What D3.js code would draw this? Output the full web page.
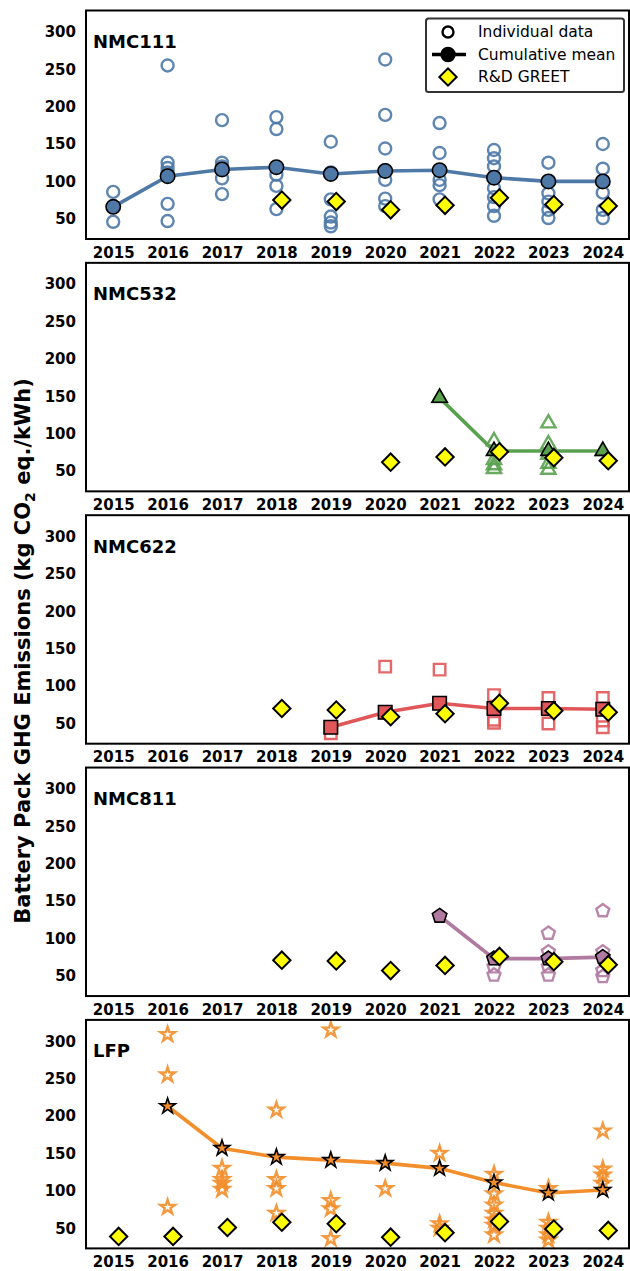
<!DOCTYPE html>
<html>
<head>
<meta charset="utf-8">
<script src="https://cdn.jsdelivr.net/npm/d3@7"></script>
<style>
  html, body { margin: 0; padding: 0; background: #fff; }
  svg { display: block; font-family: 'DejaVu Sans', sans-serif; }
  .tick text { font-family: 'DejaVu Sans', sans-serif; font-size: 15px; font-weight: bold; fill: #000; }
</style>
</head>
<body>
<svg id="chart" width="630" height="1271"></svg>
<script>
const years = [2015, 2016, 2017, 2018, 2019, 2020, 2021, 2022, 2023, 2024];
const yTicks = [50, 100, 150, 200, 250, 300];
const chemistries = ['NMC111', 'NMC532', 'NMC622', 'NMC811', 'LFP'];
const colors = ['#4e79a7', '#59a14f', '#e15759', '#b07aa1', '#f28e2b'];

// individual data, one list per year (2015..2024)
const nmc111Points = [
  [86, 46], [255, 125, 118, 112, 70, 47], [182, 125, 120, 104, 83], [186, 170, 109, 94, 63],
  [153, 112, 76, 53, 45, 40], [263, 189, 144, 115, 102, 77, 67], [178, 138, 115, 102, 95, 76],
  [142, 131, 120, 91, 79, 67, 54], [125, 84, 73, 62, 51], [150, 117, 100, 85, 62, 51]
];
const nmc532Points = [[], [], [], [], [], [], [148], [90, 65, 58, 53], [114, 86, 72, 60, 52], [77]];
const nmc622Points = [[], [], [], [], [45, 37], [126, 65], [122, 77], [88, 70, 55, 51], [84, 70, 50], [84, 70, 54, 45]];
const nmc811Points = [[], [], [], [], [], [], [130], [73, 62, 51], [107, 82, 73, 62, 51], [137, 82, 57, 49]];
const lfpPoints = [
  [], [309, 255, 78], [130, 115, 110, 102], [208, 115, 103, 70], [315, 87, 76, 36], [103],
  [150, 56, 50], [122, 96, 81, 70, 61, 54, 41], [103, 58, 50, 41, 34], [180, 129, 121, 110]
];

// cumulative mean
const nmc111Mean = [66, 107, 116, 119, 110, 114, 115, 105, 100, 100];
const nmc532Mean = [null, null, null, null, null, null, 148, 77, 77, 77];
const nmc622Mean = [null, null, null, null, 45, 65, 77, 70, 70, 69];
const nmc811Mean = [null, null, null, null, null, null, 130, 73, 73, 75];
const lfpMean = [null, 213, 157, 145, 141, 137, 130, 111, 97, 101];

// R&D GREET
const nmc111Greet = [null, null, null, 75, 73, 62, 68, 78, 69, 67];
const nmc532Greet = [null, null, null, null, null, 62, 69, 76, 68, 64];
const nmc622Greet = [null, null, null, 70, 68, 59, 63, 77, 67, 65];
const nmc811Greet = [null, null, null, 71, 70, 57, 64, 76, 69, 65];
const lfpGreet = [39, 39, 51, 58, 56, 38, 44, 59, 49, 47];

const pointsList = [nmc111Points, nmc532Points, nmc622Points, nmc811Points, lfpPoints];
const meanList = [nmc111Mean, nmc532Mean, nmc622Mean, nmc811Mean, lfpMean];
const greetList = [nmc111Greet, nmc532Greet, nmc622Greet, nmc811Greet, lfpGreet];

// pentagon marker (not in d3)
const symbolPentagon = {
  draw(context, size) {
    const r = Math.sqrt(size);
    for (let i = 0; i < 5; i++) {
      const a = -Math.PI / 2 + i * 2 * Math.PI / 5;
      const px = r * Math.cos(a), py = r * Math.sin(a);
      if (i === 0) context.moveTo(px, py); else context.lineTo(px, py);
    }
    context.closePath();
  }
};
// circle where size = radius^2
const symbolCircleR = {
  draw(context, size) {
    const r = Math.sqrt(size);
    context.moveTo(r, 0);
    context.arc(0, 0, r, 0, 2 * Math.PI);
  }
};
const markers = [
  { type: symbolCircleR, size: 6 * 6, meanSize: 7.2 * 7.2 },
  { type: d3.symbolTriangle, size: 88, meanSize: 100 },
  { type: d3.symbolSquare, size: 11.5 * 11.5, meanSize: 13.5 * 13.5 },
  { type: symbolPentagon, size: 6.8 * 6.8, meanSize: 7.6 * 7.6 },
  { type: d3.symbolStar, size: 66, meanSize: 76 }
];

const panelTop0 = 10.5;
const panelStep = 252.35;
const panelH = 228.5;
const left = 86;
const right = 630;

const x = d3.scaleLinear().domain([2014.5, 2024.5]).range([left, right]);
const y = d3.scaleLinear().domain([23, 328.5]).range([panelH, 0]);

const svg = d3.select('#chart');

chemistries.forEach((name, k) => {
  const color = colors[k];
  const mk = markers[k];
  const g = svg.append('g')
    .attr('transform', `translate(0, ${ panelTop0 + k * panelStep })`);

  const yAxis = d3.axisLeft(y).tickValues(yTicks).tickSize(0).tickPadding(10);
  g.append('g')
    .attr('transform', `translate(${ left }, 0)`)
    .call(yAxis)
    .call(a => a.select('.domain').remove());

  const xAxis = d3.axisBottom(x).tickValues(years).tickFormat(d3.format('d')).tickSize(0).tickPadding(8);
  g.append('g')
    .attr('transform', `translate(0, ${ panelH })`)
    .call(xAxis)
    .call(a => a.select('.domain').remove());

  // individual data
  const pts = [];
  pointsList[k].forEach((vals, i) => vals.forEach(v => pts.push({ yr: years[i], v })));
  g.selectAll('.ind')
    .data(pts)
    .enter()
    .append('path')
    .attr('class', 'ind')
    .attr('d', d3.symbol().type(mk.type).size(mk.size))
    .attr('transform', d => `translate(${ x(d.yr) }, ${ y(d.v) })`)
    .attr('fill', 'none')
    .attr('stroke', color)
    .attr('stroke-width', 2.4)
    .attr('opacity', 0.9);

  // cumulative mean
  const means = meanList[k].map((v, i) => ({ yr: years[i], v })).filter(d => d.v !== null);
  g.append('path')
    .datum(means)
    .attr('d', d3.line().x(d => x(d.yr)).y(d => y(d.v)))
    .attr('fill', 'none')
    .attr('stroke', color)
    .attr('stroke-width', 3.6);
  g.selectAll('.mean')
    .data(means)
    .enter()
    .append('path')
    .attr('class', 'mean')
    .attr('d', d3.symbol().type(mk.type).size(mk.meanSize))
    .attr('transform', d => `translate(${ x(d.yr) }, ${ y(d.v) })`)
    .attr('fill', color)
    .attr('stroke', '#000')
    .attr('stroke-width', 1.6);

  // R&D GREET, plotted slightly right of the year
  const greet = greetList[k].map((v, i) => ({ yr: years[i], v })).filter(d => d.v !== null);
  g.selectAll('.greet')
    .data(greet)
    .enter()
    .append('path')
    .attr('class', 'greet')
    .attr('d', d3.symbol().type(d3.symbolSquare).size(150))
    .attr('transform', d => `translate(${ x(d.yr + 0.1) }, ${ y(d.v) }) rotate(45)`)
    .attr('fill', '#ffff00')
    .attr('stroke', '#000')
    .attr('stroke-width', 2);

  // frame
  g.append('rect')
    .attr('x', left)
    .attr('y', 0)
    .attr('width', right - 1 - left)
    .attr('height', panelH)
    .attr('fill', 'none')
    .attr('stroke', '#000')
    .attr('stroke-width', 2);

  g.append('text')
    .attr('x', left + 7)
    .attr('y', 37.5)
    .attr('font-size', 18)
    .attr('font-weight', 'bold')
    .text(name);
});

// legend in the first panel
const legend = svg.append('g');
legend.append('rect')
  .attr('x', 426).attr('y', 18.5)
  .attr('width', 198).attr('height', 73.5)
  .attr('rx', 2.5)
  .attr('fill', '#fff')
  .attr('stroke', '#333')
  .attr('stroke-width', 2);
const legendItems = ['Individual data', 'Cumulative mean', 'R&D GREET'];
legendItems.forEach((t, i) => {
  legend.append('text')
    .attr('x', 478)
    .attr('y', 32 + i * 22.5)
    .attr('dy', '0.35em')
    .attr('font-size', 15.5)
    .text(t);
});
legend.append('path')
  .attr('d', d3.symbol().type(symbolCircleR).size(30))
  .attr('transform', 'translate(448, 32)')
  .attr('fill', 'none').attr('stroke', '#000').attr('stroke-width', 2.4);
legend.append('line')
  .attr('x1', 432).attr('x2', 466).attr('y1', 54.5).attr('y2', 54.5)
  .attr('stroke', '#000').attr('stroke-width', 3.6);
legend.append('path')
  .attr('d', d3.symbol().type(symbolCircleR).size(48))
  .attr('transform', 'translate(448, 54.5)')
  .attr('fill', '#000').attr('stroke', '#000').attr('stroke-width', 1.6);
legend.append('path')
  .attr('d', d3.symbol().type(d3.symbolSquare).size(150))
  .attr('transform', 'translate(448, 77) rotate(45)')
  .attr('fill', '#ffff00').attr('stroke', '#000').attr('stroke-width', 2);

// shared y label
const yLabel = svg.append('text')
  .attr('transform', 'translate(30, 651) rotate(-90)')
  .attr('text-anchor', 'middle')
  .attr('font-size', 21)
  .attr('font-weight', 'bold');
yLabel.append('tspan').text('Battery Pack GHG Emissions (kg CO');
yLabel.append('tspan').attr('font-size', 14).attr('dy', 5).text('2');
yLabel.append('tspan').attr('dy', -5).text(' eq./kWh)');
</script>
</body>
</html>
